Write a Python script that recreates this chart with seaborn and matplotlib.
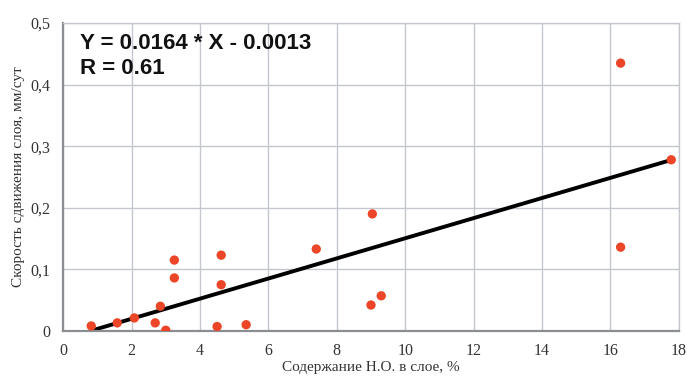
import matplotlib
matplotlib.use("Agg")
import matplotlib.pyplot as plt
import seaborn as sns
import pandas as pd
from matplotlib.ticker import FuncFormatter

# данные
nom_content = [0.82, 1.58, 2.08, 2.69, 2.84, 3.0, 3.25, 3.25, 4.5, 4.62, 4.62,
               5.35, 7.4, 9.04, 9.0, 9.3, 16.3, 16.3, 17.78]
shift_speed = [0.008, 0.013, 0.021, 0.013, 0.040, 0.001, 0.115, 0.086, 0.007,
               0.123, 0.075, 0.010, 0.133, 0.190, 0.042, 0.057, 0.435, 0.136,
               0.278]
fit_x = [0.8, 17.8]
fit_y = [0.0, 0.278]

x_ticks = [0, 2, 4, 6, 8, 10, 12, 14, 16, 18]
y_ticks = [0, 0.1, 0.2, 0.3, 0.4, 0.5]

df = pd.DataFrame({"x": nom_content, "y": shift_speed})

sns.set_style("white")
fig = plt.figure(figsize=(6.87, 3.79), dpi=100)
ax = fig.add_axes([0.092, 0.127, 0.896, 0.812])

ax.grid(True, color="#c4c8ce", linewidth=1.0)
ax.set_axisbelow(True)
ax.plot(fit_x, fit_y, color="black", linewidth=2.8, zorder=2)
sns.scatterplot(data=df, x="x", y="y", color="#ec4527", s=45,
                edgecolor="none", ax=ax, zorder=3)

ax.set_xlim(0, 18)
ax.set_ylim(0, 0.5)
ax.set_xticks(x_ticks)
ax.set_yticks(y_ticks)
ax.yaxis.set_major_formatter(FuncFormatter(
    lambda v, p: "0" if v == 0 else f"{v:.1f}".replace(".", ",")))

for side in ["top", "right"]:
    ax.spines[side].set_color("#c4c8ce")
    ax.spines[side].set_linewidth(1.0)
for side in ["left", "bottom"]:
    ax.spines[side].set_color("#8a8d92")
    ax.spines[side].set_linewidth(1.6)

serif = ["Liberation Serif", "DejaVu Serif"]
ax.tick_params(length=0, pad=9, colors="#333333")
for lab in ax.get_xticklabels() + ax.get_yticklabels():
    lab.set_family(serif)
    lab.set_fontsize(11.5)
ax.set_xlabel("Содержание Н.О. в слое, %", family=serif, fontsize=11,
              color="#333333", labelpad=1)
ax.set_ylabel("Скорость сдвижения слоя, мм/сут", family=serif, fontsize=11,
              color="#333333", labelpad=4)

ax.text(0.5, 0.484, "Y = 0.0164 * X - 0.0013\nR = 0.61",
        family=["Liberation Sans", "DejaVu Sans"], fontweight="bold",
        fontsize=16, va="top", ha="left", linespacing=1.25, color="#111111")

fig.savefig("out.png", dpi=100)
